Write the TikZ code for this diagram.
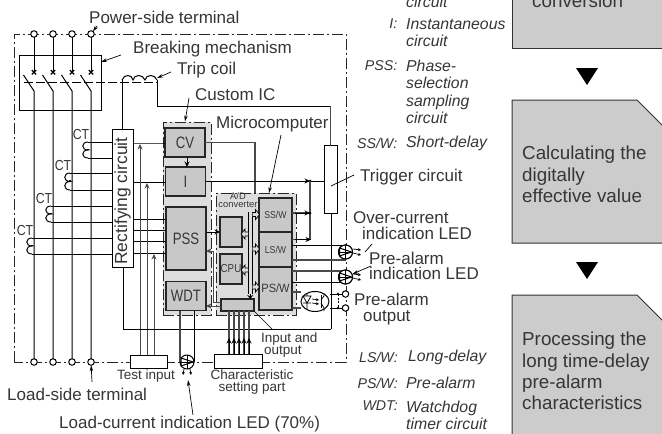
\documentclass[tikz,border=0pt]{standalone}
\usepackage{fontspec}
\setmainfont{Liberation Sans}
\usetikzlibrary{arrows.meta,shapes.geometric,calc}
\definecolor{txt}{HTML}{363636}
\definecolor{pan}{HTML}{CCCCCC}
\definecolor{ichip}{HTML}{DDDDDD}
\definecolor{blk}{HTML}{C8C8C8}
\definecolor{gl}{HTML}{4A4A4A}
\newcommand\fs[2]{\fontsize{#1}{#2}\selectfont}
\tikzset{
 x=1pt,y=-1pt,
 ln/.style={line width=1pt,black},
 gln/.style={line width=1.1pt,gl},
 ddot/.style={line width=1pt,black!85,dash pattern=on 11pt off 3pt on 2pt off 3pt},
 arr/.style={ln,-{Stealth[length=5.5pt,width=5pt]}},
 lead/.style={line width=.7pt,black,-{Stealth[length=6pt,width=3.5pt]}},
 leadn/.style={line width=.7pt,black},
 term/.style={circle,draw,ln,fill=white,minimum size=6.5pt,inner sep=0pt,outer sep=0pt},
 wbox/.style={draw,ln,fill=white,inner sep=0pt,outer sep=0pt},
 gbox/.style={draw,line width=1.1pt,draw=black!85,fill=blk,inner sep=0pt,outer sep=0pt},
 led/.style={circle,draw,ln,minimum size=14pt,inner sep=0pt,outer sep=0pt},
 lbl/.style={anchor=west,inner sep=0pt,text=txt,align=left,font=\fs{17}{15.8}},
 sml/.style={anchor=west,inner sep=0pt,text=txt,align=left,font=\fs{13.5}{12.4}},
 blab/.style={inner sep=0pt,text=txt,font=\fs{16.5}{16},xscale=.8,transform shape},
 leg/.style={anchor=west,inner sep=0pt,text=txt,align=left,font=\fs{15.8}{17.3}\itshape},
 legk/.style={anchor=east,inner sep=0pt,text=txt,font=\fs{14.2}{17.3}\itshape},
 pnl/.style={anchor=west,inner sep=0pt,text=txt,align=left,font=\fs{18.8}{21.4}},
 panel/.style={draw=black!80,line width=1pt,fill=pan},
 chip/.style={fill=ichip,draw=black!85,dash pattern=on 11pt off 3pt on 2pt off 3pt,line width=1pt,inner sep=0pt},
}
\newcommand\ctcoil[4]{% x, y1, y2, node
 \draw[ln] (#1,#2) .. controls (#1-7,#2) and (#1-7,{(#2+#3)/2}) .. (#1,{(#2+#3)/2})
   .. controls (#1-7,{(#2+#3)/2}) and (#1-7,#3) .. (#1,#3);
 \draw[ln] (#1,#2) -- (#4.west |- #1,#2);
 \draw[ln] (#1,#3) -- (#4.west |- #1,#3);
 \draw[ln] (#1-1,{(#2+#3)/2-1}) -- (#1+1,{(#2+#3)/2-1});
}
\newcommand\busR[2]{\draw[line width=.7pt,fill=ichip] (#1,#2-2) -- (#1+3,#2-2) -- (#1+3,#2-5) -- (#1+7,#2) -- (#1+3,#2+5) -- (#1+3,#2+2) -- (#1,#2+2);}
\newcommand\busL[2]{\draw[line width=.7pt,fill=ichip] (#1,#2-2) -- (#1-3,#2-2) -- (#1-3,#2-5) -- (#1-7,#2) -- (#1-3,#2+5) -- (#1-3,#2+2) -- (#1,#2+2);}
\newcommand\ledmark[1]{%
 \draw[ln] (#1.north) -- (#1.south) (#1.west) -- (#1.east);
 \draw[ln] ($(#1.west)+(1,-4)$) -- ($(#1.east)+(-1,0)$) -- ($(#1.west)+(1,4)$) -- cycle;
}
\begin{document}
\begin{tikzpicture}
\clip (0,0) rectangle (662,434);
\useasboundingbox (0,0) rectangle (662,434);
\fill[white] (0,0) rectangle (662,434);

% right panels
\draw[panel] (512,-8) -- (512,48) -- (670,48) -- (670,-8) -- cycle;
\draw[panel] (512,100) -- (637,100) -- (670,133) -- (670,243) -- (512,243) -- cycle;
\draw[panel] (512,295) -- (637,295) -- (675,333) -- (675,445) -- (512,445) -- cycle;
\fill[black] (576,68) -- (598,68) -- (587,85) -- cycle;
\fill[black] (576,262) -- (598,262) -- (587,279) -- cycle;
\node[pnl] (p1) at (532,1) {conversion};
\node[pnl] (p2) at (522,174.5) {Calculating the\\digitally\\effective value};
\node[pnl] (p3) at (522,371) {Processing the\\long time-delay\\pre-alarm\\characteristics};

% legend
\node[leg] (l0) at (406,2) {circuit};
\node[legk] (k1) at (397.5,24) {I:};
\node[leg] (l1) at (406,32.5) {Instantaneous\\circuit};
\node[legk] (k2) at (397.5,66) {PSS:};
\node[leg] (l2) at (406,92) {Phase-\\selection\\sampling\\circuit};
\node[legk] (k3) at (397.5,143) {SS/W:};
\node[leg] (l3) at (406,143) {Short-delay};
\node[legk] (k4) at (398,357) {LS/W:};
\node[leg] (l4) at (408,357) {Long-delay};
\node[legk] (k5) at (398,383) {PS/W:};
\node[leg] (l5) at (406,383) {Pre-alarm};
\node[legk] (k6) at (398,406) {WDT:};
\node[leg] (l6) at (406,415) {Watchdog\\timer circuit};

% outer frame
\draw[ddot] (14,362) -- (14,34) -- (346,34) -- (346,362) -- (14,362);

% chip groups
\node[chip,minimum width=48pt,minimum height=193pt] (ic) at (187,218.5) {};
\node[chip,minimum width=80pt,minimum height=122pt] (mc) at (256,254) {};

% terminals
\foreach \n/\x in {1/34,2/53,3/72,4/91}{
 \node[term] (t\n) at (\x,34) {};
 \node[term] (b\n) at (\x,362) {};
}
% breaker
\node[draw,ln,minimum width=82pt,minimum height=55pt,inner sep=0pt,outer sep=0pt] (brk) at (60,82.5) {};
\foreach \n/\x in {1/34,2/53,3/72,4/91}{
 \coordinate (sw\n) at (\x,91);
 \draw[ln] (t\n) -- (\x,72);
 \draw[line width=1.3pt] (\x-2.2,70) -- (\x+2.2,74.4) (\x+2.2,70) -- (\x-2.2,74.4);
 \draw[ln] (\x-10.5,75) -- (sw\n) -- (b\n);
}
% rectifier
\node[wbox,minimum width=21pt,minimum height=138pt] (rect) at (122.5,198) {};
\node[inner sep=0pt,text=txt,rotate=90,font=\fs{17.5}{17}] (recttxt) at (122.5,201) {Rectifying circuit};
% trip coil
\coordinate (cl) at (122,80);
\coordinate (cr) at (157,80);
\draw[ln,dash pattern=on 9pt off 3pt] (24,82) -- (157,82);
\draw[ln] (cl) .. controls (124,74) and (132,74) .. (133,80) .. controls (134,74) and (143,74) .. (145,80) .. controls (146,74) and (155,74) .. (cr);
\draw[ln] (cl) -- (rect.north -| cl);
% trigger
\node[wbox,minimum width=13pt,minimum height=68pt] (trg) at (330.5,179.5) {};
\coordinate (cm) at (157,106);
\draw[ln] (cr) -- (cm) -- (trg.north |- cm);
\draw[gln] (trg.north |- cm) -- (trg.north);
% CTs
\ctcoil{88}{142}{158}{rect}
\ctcoil{70}{173}{190}{rect}
\ctcoil{51}{206}{222}{rect}
\ctcoil{32}{238}{254}{rect}
\foreach \nm/\x/\y in {ca/81/135,cb/63/166,cc/44/199,cd/25/231}
 \node[inner sep=0pt,text=txt,font=\fs{14.5}{14},xscale=.85,transform shape] (\nm) at (\x,\y) {CT};

% blocks of IC
\node[gbox,minimum width=40pt,minimum height=29pt] (cv) at (185,142.5) {};
\node[gbox,minimum width=40pt,minimum height=29pt] (ii) at (185.5,181.5) {};
\node[gbox,minimum width=40pt,minimum height=63pt] (pss) at (186,238.5) {};
\node[gbox,minimum width=40pt,minimum height=29pt] (wdt) at (186,296) {};
\node[blab] at (cv) {CV};
\node[blab] at (ii) {I};
\node[blab] at (pss) {PSS};
\node[blab] at (wdt) {WDT};
\draw[arr] (cv.south -| 187,0) -- (ii.north -| 187,0);

% micro blocks
\node[gbox,minimum width=22pt,minimum height=30pt] (adb) at (231,232) {};
\node[gbox,minimum width=22pt,minimum height=30pt] (cpu) at (231,269) {};
\node[gbox,minimum width=33pt,minimum height=34pt] (ssw) at (275.5,215) {};
\node[gbox,minimum width=33pt,minimum height=35pt] (lsw) at (275.5,249.5) {};
\node[gbox,minimum width=33pt,minimum height=43pt] (psw) at (275.5,288.5) {};
\node[gbox,minimum width=33pt,minimum height=12pt] (io) at (237.5,305) {};
\node[inner sep=0pt,text=txt,font=\fs{11.5}{10},xscale=.85,transform shape] at (cpu) {CPU};
\node[inner sep=0pt,text=txt,font=\fs{10}{9},xscale=.87,transform shape] at (ssw) {SS/W};
\node[inner sep=0pt,text=txt,font=\fs{10}{9},xscale=.87,transform shape] at (lsw) {LS/W};
\node[inner sep=0pt,text=txt,font=\fs{12}{11},xscale=.92,transform shape] at (psw) {PS/W};
\node[inner sep=0pt,text=txt,align=center,font=\fs{9.4}{8.2}] (adt) at (238,200.5) {A/D\\converter};

% bus
\draw[line width=.7pt] (248,212) -- (248,294) (252.5,212) -- (252.5,294);
\draw[line width=.7pt,-{Stealth[length=4pt,width=6pt]}] (250.2,294) -- (250.2,299);
\busR{252.5}{214.5}
\busR{252.5}{249}
\busR{252.5}{287}
\busL{248}{234}
\busL{248}{270}

% rectifier to IC
\draw[ln] (rect.east |- 0,143) -- (ic.west |- 0,143) -- (cv.west |- 0,143);
\draw[ln] (rect.east |- 0,182) -- (ii.west |- 0,182);
\foreach \y in {219,230,241,253}
 \draw[ln] (rect.east |- 0,\y) -- (pss.west |- 0,\y);

% test input
\node[wbox,minimum width=37pt,minimum height=13pt] (test) at (148.5,361.5) {};
\foreach \x/\y in {140/144,147/183,154/254}
 \draw[arr,gl] (test.north -| \x,0) -- (\x,\y);
\node[sml] (testl) at (117,376) {Test input};

% rectifier bottom bus to trigger
\coordinate (rb) at (123,329);
\draw[ln] (rect.south -| rb) -- (rb) -- (331,329);
\draw[ln] (331,329) -- (trg.south -| 331,0);

% CV / I outputs
\draw[gln] (cv.east) -- (255,142.5) -- (mc.north -| 255,0);
\coordinate (jn) at (310,181);
\draw[ln] (ii.east |- jn) -- (trg.west |- jn);
\draw[arr] (290,181) -- (jn);
\fill (jn) circle (1.5pt);
\draw[gln] (jn) -- (310,239.5) -- (lsw.east |- 0,239.5);
\draw[arr] (295,239.5) -- (311,239.5);
\draw[gln] (ssw.east |- 0,213) -- (310,213);
\draw[arr] (295,213) -- (310,213);
\fill (310,213) circle (1.5pt);

% PSS - A/D, feedback
\draw[arr] (pss.east |- 0,232) -- (adb.west |- 0,232);
\draw[arr,gl] (io.west |- 0,302) -- (213,302) -- (213,251) -- (pss.east |- 0,251);
\draw[arr,gl] (io.west |- 0,306) -- (wdt.east |- 0,306);

% characteristic
\node[wbox,minimum width=48pt,minimum height=14pt] (chr) at (238,361) {};
\foreach \x in {229,234,239,244,249}{
 \draw[gln] (chr.north -| \x,0) -- (io.south -| \x,0);
 \draw[arr] (chr.north -| \x,0) -- (\x,338);
}
\node[sml,align=center,anchor=center] (chrl) at (252,382) {Characteristic\\setting part};

% load LED
\node[led,fill=white] (ll) at (187,362) {};
\draw[gln] (wdt.south -| 180,0) -- (ll.west);
\draw[ln] (wdt.south -| 194,0) -- (ll.east);
\ledmark{ll}
\draw[line width=.7pt,-{Stealth[length=3pt,width=3pt]}] (184,369) -- (183,375);
\draw[line width=.7pt,-{Stealth[length=3pt,width=3pt]}] (190,369) -- (191,375);

% right LEDs
\node[led,fill=white] (l1led) at (345.5,252) {};
\node[led,fill=white] (l2led) at (345.5,277) {};
\draw[ln] (lsw.east |- 0,245) -- (345.5,245);
\draw[gln] (psw.east |- 0,260) -- (345.5,260);
\draw[gln] (psw.east |- 0,271) -- (345.5,271);
\draw[ln] (psw.east |- 0,282) -- (345.5,282);
\node[led,fill=white] at (l1led) {};
\node[led,fill=white] at (l2led) {};
\ledmark{l1led}
\ledmark{l2led}
\foreach \yy in {252,277}{
 \draw[line width=.7pt,-{Stealth[length=3pt,width=3pt]}] (353,\yy-3) -- (361,\yy-2);
 \draw[line width=.7pt,-{Stealth[length=3pt,width=3pt]}] (353,\yy+1) -- (361,\yy+3);
}
% opto
\node[term] (po1) at (345.5,294) {};
\node[term] (po2) at (345.5,308) {};
\node[ellipse,draw,ln,fill=white,minimum width=28pt,minimum height=20pt,inner sep=0pt] (opto) at (315,301.5) {};
\draw[ln] (opto.east |- po1) -- (po1);
\draw[ln] (opto.east |- po2) -- (po2);
\draw[gln] (psw.east |- 0,292) -- (opto.west |- 0,292);
\draw[gln] (psw.east |- 0,308) -- (opto.west |- 0,308);
\draw[line width=.8pt] (303,296) -- (311,296) -- (307,303) -- cycle (303,303) -- (311,303) (307,294) -- (307,296) (307,303) -- (307,309);
\draw[line width=1pt] (321,295) -- (321,308);
\draw[line width=.7pt] (324,296) -- (321,300) (321,303) -- (324,308) (324,296) -- (324,293) (324,308) -- (324,311);
\draw[line width=.7pt,-{Stealth[length=3pt,width=3pt]}] (312,299) -- (319,300);
\draw[line width=.7pt,-{Stealth[length=3pt,width=3pt]}] (312,303) -- (319,304);
\draw[line width=1pt,dash pattern=on 2pt off 1.5pt] (338,294) -- (338,308);
\fill (338,294) circle (1.3pt) (338,308) circle (1.3pt);

% labels and leaders
\node[lbl] (pst) at (89,17) {Power-side terminal};
\draw[lead] (97,26) -- (t4);
\node[lbl] (bm) at (133,49) {Breaking mechanism};
\draw[lead] (121,55) -- (brk.east |- 0,62);
\node[lbl] (tc) at (177,70) {Trip coil};
\draw[lead] (171,72) -- (157,78);
\node[lbl] (cic) at (195,95) {Custom IC};
\draw[lead] (189,98) -- (ic.north -| 185,0);
\node[lbl] (mcl) at (216,124) {Microcomputer};
\draw[lead] (281,135) -- (269,193);
\node[lbl] (tcl) at (360,177) {Trigger circuit};
\draw[leadn] (331,186) -- (354,175);
\node[lbl] (ocl) at (353,225.5) {Over-current\\\hspace*{9pt}indication LED};
\draw[leadn] (365,252) -- (372,244);
\node[lbl] (pal) at (369,266) {Pre-alarm\\indication LED};
\draw[lead] (371,266) -- (l2led.east |- 0,274);
\node[lbl] (pao) at (354,309) {Pre-alarm\\\hspace*{9pt}output};
\node[sml] (iol) at (261,345) {Input and\\\hspace*{3pt}output};
\draw[leadn] (io.south east) -- (272,329);
\node[lbl] (lst) at (7,394) {Load-side terminal};
\draw[lead] (92,382) -- (b4);
\node[lbl] (lcl) at (59,424) {Load-current indication LED (70\%)};
\draw[lead] (193,415) -- (188,380);
\end{tikzpicture}
\end{document}
